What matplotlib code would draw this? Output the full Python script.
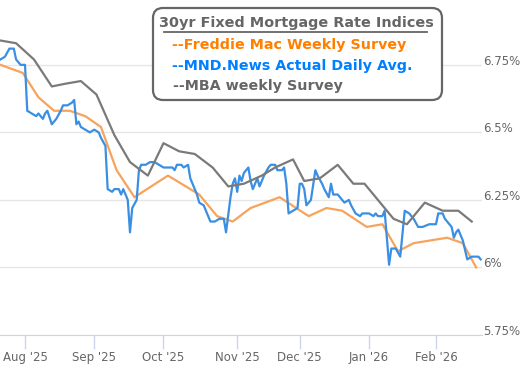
import numpy as np
import matplotlib
matplotlib.use('Agg')
import matplotlib.pyplot as plt
import matplotlib.dates as mdates
import matplotlib.transforms as mtransforms
from matplotlib.patches import FancyBboxPatch

# MND.News daily index
mnd_dates = ['2025-07-21', '2025-07-23', '2025-07-25', '2025-07-27', '2025-07-28', '2025-07-30', '2025-08-01',
             '2025-08-02', '2025-08-04', '2025-08-06', '2025-08-07', '2025-08-09', '2025-08-10', '2025-08-11',
             '2025-08-13', '2025-08-15', '2025-08-17', '2025-08-18', '2025-08-20', '2025-08-22', '2025-08-23',
             '2025-08-24', '2025-08-25', '2025-08-26', '2025-08-28', '2025-08-30',
             '2025-09-01', '2025-09-03', '2025-09-04', '2025-09-06', '2025-09-07', '2025-09-09', '2025-09-10',
             '2025-09-12', '2025-09-13', '2025-09-14', '2025-09-16', '2025-09-17', '2025-09-18', '2025-09-20',
             '2025-09-21', '2025-09-22', '2025-09-24', '2025-09-26', '2025-09-28', '2025-09-30',
             '2025-10-02', '2025-10-04', '2025-10-06', '2025-10-07', '2025-10-08', '2025-10-10', '2025-10-11',
             '2025-10-13', '2025-10-14', '2025-10-15', '2025-10-17', '2025-10-18', '2025-10-20', '2025-10-21',
             '2025-10-23', '2025-10-25', '2025-10-27', '2025-10-29', '2025-10-30',
             '2025-11-01', '2025-11-02', '2025-11-03', '2025-11-04', '2025-11-05', '2025-11-06', '2025-11-07',
             '2025-11-09', '2025-11-10', '2025-11-11', '2025-11-13', '2025-11-14', '2025-11-16', '2025-11-18',
             '2025-11-19', '2025-11-21', '2025-11-22', '2025-11-24', '2025-11-25', '2025-11-26', '2025-11-27',
             '2025-11-29',
             '2025-12-01', '2025-12-02', '2025-12-03', '2025-12-04', '2025-12-05', '2025-12-07', '2025-12-09',
             '2025-12-10', '2025-12-12', '2025-12-13', '2025-12-15', '2025-12-16', '2025-12-17', '2025-12-19',
             '2025-12-20', '2025-12-22', '2025-12-24', '2025-12-25', '2025-12-27', '2025-12-29', '2025-12-30',
             '2026-01-02', '2026-01-04', '2026-01-05', '2026-01-06', '2026-01-08', '2026-01-09', '2026-01-11',
             '2026-01-12', '2026-01-14', '2026-01-16', '2026-01-18', '2026-01-20', '2026-01-22', '2026-01-24',
             '2026-01-26', '2026-01-29',
             '2026-02-01', '2026-02-02', '2026-02-04', '2026-02-05', '2026-02-07', '2026-02-08', '2026-02-09',
             '2026-02-10', '2026-02-11', '2026-02-13', '2026-02-15', '2026-02-17', '2026-02-20', '2026-02-21']
mnd_vals = [6.77, 6.78, 6.81, 6.81, 6.77, 6.75, 6.75,
            6.58, 6.57, 6.56, 6.57, 6.55, 6.57, 6.58, 6.53, 6.55, 6.58, 6.60, 6.60, 6.61, 6.62, 6.53, 6.54,
            6.52, 6.51, 6.50,
            6.51, 6.50, 6.48, 6.45, 6.29, 6.28, 6.29, 6.29, 6.27, 6.29, 6.25, 6.13, 6.22, 6.25, 6.36, 6.38,
            6.38, 6.39, 6.39, 6.38,
            6.37, 6.37, 6.37, 6.36, 6.38, 6.38, 6.37, 6.38, 6.33, 6.31, 6.27, 6.24, 6.23, 6.21, 6.17, 6.17,
            6.18, 6.18, 6.13,
            6.26, 6.31, 6.33, 6.28, 6.34, 6.32, 6.35, 6.37, 6.32, 6.29, 6.33, 6.30, 6.34, 6.37, 6.38, 6.38,
            6.36, 6.36, 6.37, 6.31, 6.20, 6.21,
            6.22, 6.31, 6.31, 6.29, 6.23, 6.25, 6.36, 6.34, 6.31, 6.29, 6.26, 6.31, 6.27, 6.27, 6.26, 6.24,
            6.25, 6.23, 6.20, 6.19, 6.20,
            6.20, 6.19, 6.20, 6.19, 6.19, 6.21, 6.01, 6.07, 6.07, 6.04, 6.21, 6.20, 6.18, 6.15, 6.15, 6.16,
            6.16, 6.20, 6.20, 6.18, 6.16, 6.15, 6.11, 6.13, 6.14, 6.10, 6.03, 6.04, 6.04, 6.03]

# Freddie Mac weekly survey
fm_dates = ['2025-07-21', '2025-07-31', '2025-08-07', '2025-08-14', '2025-08-21', '2025-08-28', '2025-09-04',
            '2025-09-11', '2025-09-19', '2025-10-04', '2025-10-18', '2025-10-26', '2025-11-02', '2025-11-10',
            '2025-11-23', '2025-12-06', '2025-12-14', '2025-12-21', '2026-01-01', '2026-01-08', '2026-01-15',
            '2026-01-22', '2026-02-06', '2026-02-13', '2026-02-19']
fm_vals = [6.75, 6.72, 6.63, 6.58, 6.58, 6.56, 6.52, 6.36, 6.26, 6.34, 6.27, 6.19, 6.17, 6.22, 6.26,
           6.19, 6.22, 6.21, 6.15, 6.16, 6.06, 6.09, 6.11, 6.09, 6.00]

# MBA weekly survey
mba_dates = ['2025-07-21', '2025-07-28', '2025-08-05', '2025-08-13', '2025-08-19', '2025-08-26', '2025-09-02',
             '2025-09-10', '2025-09-17', '2025-09-25', '2025-10-02', '2025-10-09', '2025-10-16', '2025-10-24',
             '2025-10-31', '2025-11-07', '2025-11-15', '2025-11-21', '2025-11-29', '2025-12-04', '2025-12-11',
             '2025-12-19', '2025-12-26', '2025-12-31', '2026-01-13', '2026-01-19', '2026-01-27', '2026-02-04',
             '2026-02-11', '2026-02-17']
mba_vals = [6.84, 6.83, 6.77, 6.67, 6.68, 6.69, 6.64, 6.49, 6.39, 6.34, 6.46, 6.43, 6.42, 6.37, 6.30,
            6.31, 6.34, 6.37, 6.40, 6.32, 6.33, 6.38, 6.31, 6.31, 6.18, 6.16, 6.24, 6.21, 6.21, 6.17]

tick_dates = ['2025-08-01', '2025-09-01', '2025-10-02', '2025-11-04', '2025-12-02', '2026-01-02', '2026-02-01']
tick_labels = ["Aug '25", "Sep '25", "Oct '25", "Nov '25", "Dec '25", "Jan '26", "Feb '26"]
y_ticks = [5.75, 6.0, 6.25, 6.5, 6.75]
y_labels = ['5.75%', '6%', '6.25%', '6.5%', '6.75%']

W, H = 525, 368
fig = plt.figure(figsize=(W / 100, H / 100), dpi=100)
ax = fig.add_axes([0, 33 / H, 482 / W, 335 / H])

d = lambda s: np.array(s, dtype='datetime64[D]')
ax.plot(d(fm_dates), fm_vals, color='#f7a35c', lw=1.6)
ax.plot(d(mnd_dates), mnd_vals, color='#3a8fe3', lw=1.6)
ax.plot(d(mba_dates), mba_vals, color='#7a7a7a', lw=1.6)

x0 = mdates.date2num(np.datetime64('2025-08-01'))
ax.set_xlim(x0 - 11.2, x0 + 204.6)
ax.set_ylim(5.75, 6.99)

ax.set_yticks(y_ticks)
ax.set_yticklabels(y_labels)
ax.yaxis.tick_right()
ax.tick_params(axis='y', length=0, pad=1, labelsize=8.5, labelcolor='#666666')
for t in ax.get_yticklabels():
    t.set_verticalalignment('baseline')
ax.grid(axis='y', color='#e6e6e6', lw=1)
ax.set_axisbelow(True)

ax.set_xticks(d(tick_dates))
ax.set_xticklabels(tick_labels)
ax.tick_params(axis='x', length=10, width=1, color='#ccd6eb', pad=1.5, labelsize=8.5, labelcolor='#666666')

for s in ['top', 'left', 'right']:
    ax.spines[s].set_visible(False)
ax.spines['bottom'].set_color('#ccd6eb')

# legend box drawn in pixel coordinates
ident = mtransforms.IdentityTransform()
box = FancyBboxPatch((153, H - 100), 289, 92, boxstyle='round,pad=0,rounding_size=10',
                     transform=ident, facecolor='white', edgecolor='#666666', lw=1.6, zorder=5)
fig.patches.append(box)

px = lambda x: x / W
py = lambda y: 1 - y / H
fig.text(px(296), py(26.7), '30yr Fixed Mortgage Rate Indices', ha='center', va='baseline',
         fontsize=10.4, fontweight='bold', color='#666666', zorder=6)
fig.lines.append(plt.Line2D([px(164), px(427)], [py(32), py(32)], transform=fig.transFigure,
                            color='#666666', lw=1.3, zorder=6))
fig.text(px(172), py(49.3), '--Freddie Mac Weekly Survey', ha='left', va='baseline',
         fontsize=10.3, fontweight='bold', color='#ff8000', zorder=6)
fig.text(px(172), py(70), '--MND.News Actual Daily Avg.', ha='left', va='baseline',
         fontsize=10.3, fontweight='bold', color='#0080ff', zorder=6)
fig.text(px(173), py(90), '--MBA weekly Survey', ha='left', va='baseline',
         fontsize=10.3, fontweight='bold', color='#666666', zorder=6)

fig.savefig('out.png', dpi=100)
